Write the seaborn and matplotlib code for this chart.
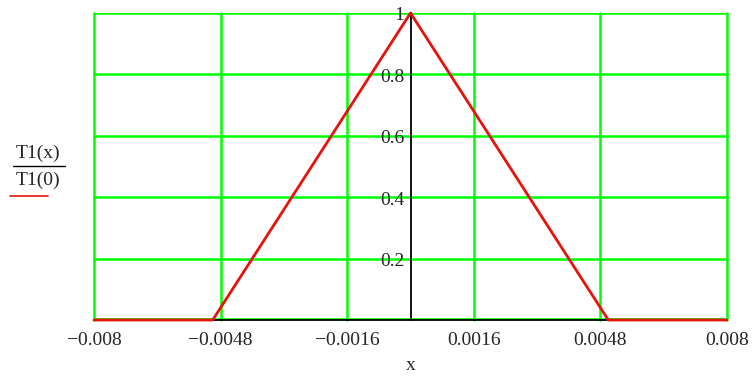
#!/usr/bin/env python3
"""Normalised triangular pulse T1(x)/T1(0), Mathcad-style plot."""

import matplotlib
matplotlib.use("Agg")
import matplotlib.pyplot as plt
import matplotlib.transforms as mtransforms
import pandas as pd
import seaborn as sns

# data
X_VALUES = [-0.008, -0.005, 0.0, 0.005, 0.008]
Y_VALUES = [0.0, 0.0, 1.0, 0.0, 0.0]
X_TICKS = [-0.008, -0.0048, -0.0016, 0.0016, 0.0048, 0.008]
X_TICK_LABELS = ["\u22120.008", "\u22120.0048", "\u22120.0016", "0.0016", "0.0048", "0.008"]
Y_TICKS = [0.2, 0.4, 0.6, 0.8, 1.0]
Y_TICK_LABELS = ["0.2", "0.4", "0.6", "0.8", "1"]

GRID_GREEN = "#00ff00"
LINE_RED = "#e8120c"
FONT_SIZE = 14


def main() -> None:
    sns.set_style("white")
    plt.rcParams["font.family"] = ["Liberation Serif", "DejaVu Serif"]

    df = pd.DataFrame({"x": X_VALUES, "y": Y_VALUES})

    fig = plt.figure(figsize=(7.53, 3.76), dpi=100)
    ax = fig.add_axes([94 / 753, 1 - 320 / 376, (727 - 94) / 753, (320 - 13) / 376])

    sns.lineplot(data=df, x="x", y="y", color=LINE_RED, linewidth=2.0, ax=ax,
                 zorder=5, clip_on=False)

    ax.set_xlim(-0.008, 0.008)
    ax.set_ylim(0, 1)

    ax.set_xticks(X_TICKS)
    ax.set_xticklabels(X_TICK_LABELS)
    ax.set_yticks(Y_TICKS)
    ax.set_yticklabels(Y_TICK_LABELS)

    ax.grid(True, color=GRID_GREEN, linewidth=1.8, zorder=1)
    ax.set_axisbelow(True)
    for gl in ax.get_xgridlines() + ax.get_ygridlines():
        gl.set_clip_on(False)
    ax.axhline(0.004, color=GRID_GREEN, linewidth=1.2, zorder=1.5)

    # y axis drawn through x = 0, frame given by the green grid
    ax.spines["left"].set_position(("data", 0))
    ax.spines["left"].set_color("black")
    ax.spines["left"].set_linewidth(1.3)
    ax.spines["bottom"].set_color("black")
    ax.spines["bottom"].set_linewidth(1.3)
    ax.spines["top"].set_visible(False)
    ax.spines["right"].set_visible(False)

    ax.tick_params(axis="x", direction="inout", length=9, width=1.3, color="black",
                   labelsize=FONT_SIZE, pad=4)
    ax.tick_params(axis="y", direction="inout", length=9, width=1.3, color="black",
                   labelsize=FONT_SIZE, pad=0)
    shift = mtransforms.ScaledTranslation(0, -3 / 100, fig.dpi_scale_trans)
    for lab in ax.get_yticklabels():
        lab.set_verticalalignment("center")
        lab.set_transform(lab.get_transform() + shift)

    ax.set_xlabel("")
    ax.set_ylabel("")

    # x label under the axis
    fig.text(411 / 753, 1 - 366 / 376, "x", ha="center", va="center", fontsize=FONT_SIZE)

    # fraction-style y label with line sample
    fig.text(38 / 753, 1 - 153 / 376, "T1(x)", ha="center", va="center", fontsize=FONT_SIZE)
    fig.add_artist(plt.Line2D([13 / 753, 65 / 753], [1 - 166 / 376, 1 - 166 / 376],
                              color="black", linewidth=1.0, transform=fig.transFigure))
    fig.text(38 / 753, 1 - 180 / 376, "T1(0)", ha="center", va="center", fontsize=FONT_SIZE)
    fig.add_artist(plt.Line2D([10 / 753, 48 / 753], [1 - 196 / 376, 1 - 196 / 376],
                              color=LINE_RED, linewidth=1.2, transform=fig.transFigure))

    fig.savefig("out.png", dpi=100)
    plt.close(fig)


if __name__ == "__main__":
    main()
